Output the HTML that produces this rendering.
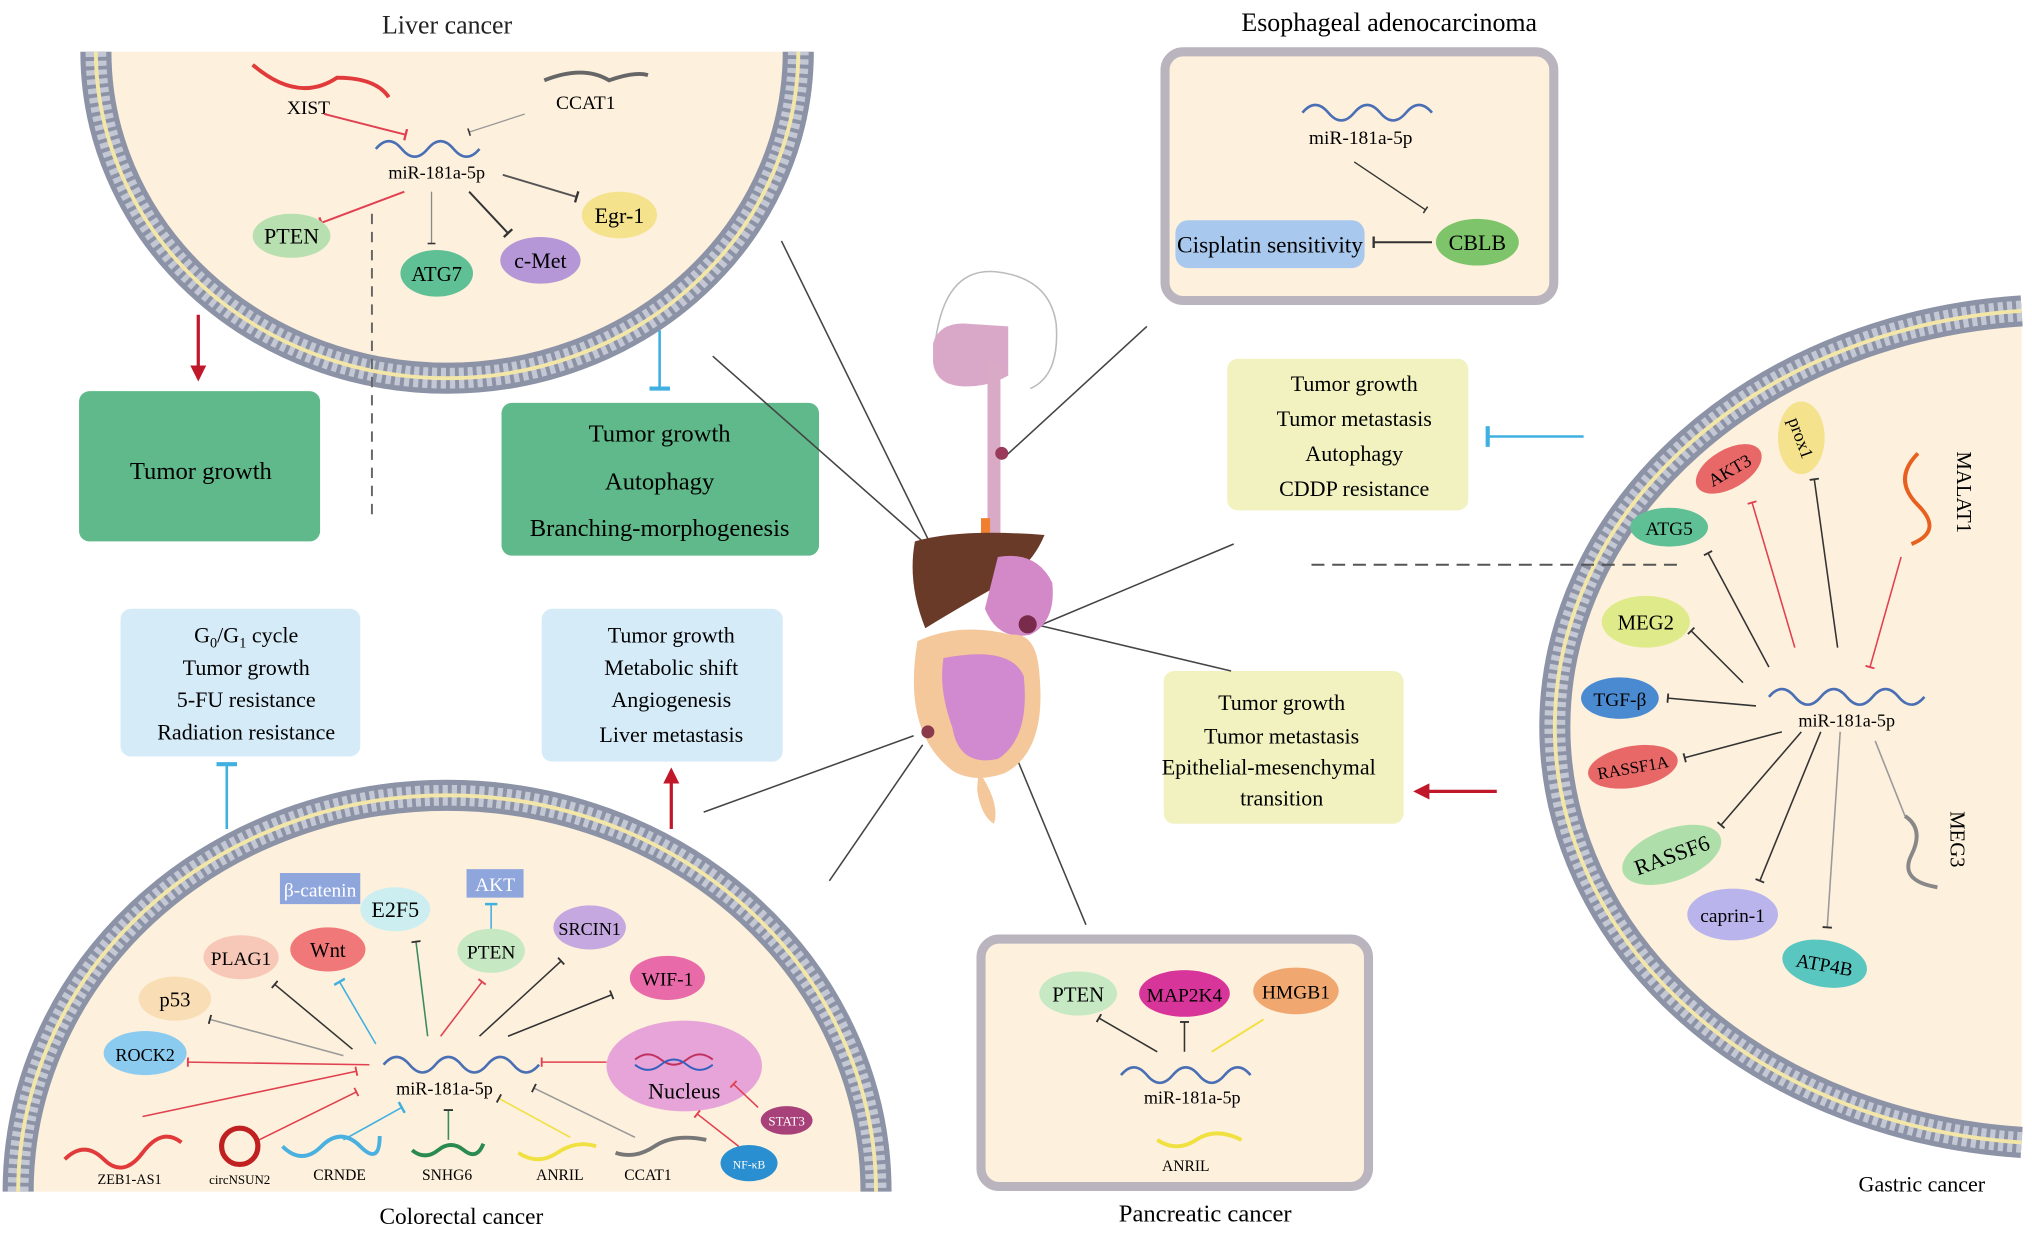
<!DOCTYPE html>
<html><head><meta charset="utf-8"><style>
html,body{margin:0;padding:0;background:#fff;}
svg{display:block;}
text{font-family:"Liberation Serif",serif;}
</style></head><body>
<svg width="2032" height="1237" viewBox="0 0 1568 955" preserveAspectRatio="none" xmlns="http://www.w3.org/2000/svg">
<defs>
<marker id="tb" viewBox="0 0 10 10" refX="5" refY="5" markerWidth="6" markerHeight="6" orient="auto"><path d="M5,0 L5,10" stroke="#333" stroke-width="2"/></marker>
<marker id="tr" viewBox="0 0 10 10" refX="5" refY="5" markerWidth="6" markerHeight="6" orient="auto"><path d="M5,0 L5,10" stroke="#e04050" stroke-width="2"/></marker>
<marker id="tc" viewBox="0 0 10 10" refX="5" refY="5" markerWidth="8" markerHeight="8" orient="auto"><path d="M5,0 L5,10" stroke="#40b0e0" stroke-width="2"/></marker>
<marker id="ar" viewBox="0 0 10 10" refX="8" refY="5" markerWidth="5" markerHeight="5" orient="auto"><path d="M0,0 L10,5 L0,10 z" fill="#c0182a"/></marker>
</defs>

<!-- Liver membrane -->
<path d="M74,40 A271,252 0 0 0 616,40 Z" fill="#fdf0dc"/>
<path d="M74,40 A271,252 0 0 0 616,40" fill="none" stroke="#8d93a6" stroke-width="24"/>
<path d="M74,40 A271,252 0 0 0 616,40" fill="none" stroke="#c4c8d4" stroke-width="16" stroke-dasharray="4 3"/>
<path d="M74,40 A271,252 0 0 0 616,40" fill="none" stroke="#f2e6a8" stroke-width="3"/>
<text x="345" y="26" font-size="20" text-anchor="middle" fill="#222">Liver cancer</text>

<path d="M195,50 Q230,80 260,60 Q290,60 300,75" fill="none" stroke="#e03a3a" stroke-width="3"/>
<text x="238" y="88" font-size="15" text-anchor="middle">XIST</text>
<path d="M420,62 Q450,50 470,62 Q490,55 500,58" fill="none" stroke="#666" stroke-width="3"/>
<text x="452" y="84" font-size="15" text-anchor="middle">CCAT1</text>
<path d="M290,115 q10,-12 20,0 t20,0 t20,0 t20,0" fill="none" stroke="#4a6fb5" stroke-width="2"/>
<text x="337" y="138" font-size="14" text-anchor="middle">miR-181a-5p</text>
<line x1="250" y1="88" x2="313" y2="104" stroke="#e04050" stroke-width="1.5" marker-end="url(#tr)"/>
<line x1="405" y1="88" x2="362" y2="102" stroke="#999" stroke-width="1" marker-end="url(#tb)"/>
<line x1="312" y1="148" x2="248" y2="172" stroke="#e04050" stroke-width="1.5" marker-end="url(#tr)"/>
<line x1="333" y1="148" x2="333" y2="188" stroke="#888" stroke-width="1" marker-end="url(#tb)"/>
<line x1="362" y1="148" x2="392" y2="180" stroke="#333" stroke-width="1.5" marker-end="url(#tb)"/>
<line x1="388" y1="135" x2="445" y2="152" stroke="#555" stroke-width="1.5" marker-end="url(#tb)"/>
<ellipse cx="225" cy="182" rx="30" ry="17" fill="#b8dfb0"/><text x="225" y="188" font-size="17" text-anchor="middle">PTEN</text>
<ellipse cx="337" cy="211" rx="28" ry="18" fill="#5fbf95"/><text x="337" y="217" font-size="16" text-anchor="middle">ATG7</text>
<ellipse cx="417" cy="201" rx="31" ry="18" fill="#b596d6"/><text x="417" y="207" font-size="17" text-anchor="middle">c-Met</text>
<ellipse cx="478" cy="166" rx="29" ry="18" fill="#f4e28c"/><text x="478" y="172" font-size="17" text-anchor="middle">Egr-1</text>
<line x1="287" y1="165" x2="287" y2="400" stroke="#666" stroke-width="1.5" stroke-dasharray="8 6"/>
<line x1="153" y1="243" x2="153" y2="292" stroke="#c0182a" stroke-width="2.5" marker-end="url(#ar)"/>
<line x1="509" y1="255" x2="509" y2="300" stroke="#40b0e0" stroke-width="2" marker-end="url(#tc)"/>
<rect x="61" y="302" width="186" height="116" rx="8" fill="#5fb98a"/>
<text x="155" y="370" font-size="19" text-anchor="middle">Tumor growth</text>
<rect x="387" y="311" width="245" height="118" rx="8" fill="#5fb98a"/>
<text x="509" y="341" font-size="19" text-anchor="middle">Tumor growth</text>
<text x="509" y="378" font-size="19" text-anchor="middle">Autophagy</text>
<text x="509" y="414" font-size="19" text-anchor="middle">Branching-morphogenesis</text>

<!-- Esophageal -->
<text x="1072" y="24" font-size="20" text-anchor="middle">Esophageal adenocarcinoma</text>
<rect x="899" y="40" width="300" height="192" rx="14" fill="#fdf0dc" stroke="#b9b4bd" stroke-width="7"/>
<path d="M1005,87 q10,-12 20,0 t20,0 t20,0 t20,0 t20,0" fill="none" stroke="#4a6fb5" stroke-width="2"/>
<text x="1050" y="111" font-size="15" text-anchor="middle">miR-181a-5p</text>
<line x1="1045" y1="125" x2="1100" y2="162" stroke="#333" stroke-width="1" marker-end="url(#tb)"/>
<rect x="907" y="170" width="146" height="37" rx="10" fill="#a9c8ee"/>
<text x="980" y="195" font-size="18" text-anchor="middle">Cisplatin sensitivity</text>
<line x1="1105" y1="187" x2="1060" y2="187" stroke="#333" stroke-width="1.5" marker-end="url(#tb)"/>
<ellipse cx="1140" cy="187" rx="32" ry="18" fill="#7ec46a"/><text x="1140" y="193" font-size="17" text-anchor="middle">CBLB</text>

<!-- Colorectal -->
<path d="M14,920 A331,306 0 0 1 676,920 Z" fill="#fdf0dc"/>
<path d="M14,920 A331,306 0 0 1 676,920" fill="none" stroke="#8d93a6" stroke-width="24"/>
<path d="M14,920 A331,306 0 0 1 676,920" fill="none" stroke="#c4c8d4" stroke-width="16" stroke-dasharray="4 3"/>
<path d="M14,920 A331,306 0 0 1 676,920" fill="none" stroke="#f2e6a8" stroke-width="3"/>
<text x="356" y="945" font-size="18" text-anchor="middle">Colorectal cancer</text>
<rect x="93" y="470" width="185" height="114" rx="8" fill="#d6ebf8"/>
<text x="190" y="496" font-size="17" text-anchor="middle">G<tspan font-size="11" dy="4">0</tspan><tspan dy="-4">/G</tspan><tspan font-size="11" dy="4">1</tspan><tspan dy="-4"> cycle</tspan></text>
<text x="190" y="521" font-size="17" text-anchor="middle">Tumor growth</text>
<text x="190" y="546" font-size="17" text-anchor="middle">5-FU resistance</text>
<text x="190" y="571" font-size="17" text-anchor="middle">Radiation resistance</text>
<rect x="418" y="470" width="186" height="118" rx="8" fill="#d6ebf8"/>
<text x="518" y="496" font-size="17" text-anchor="middle">Tumor growth</text>
<text x="518" y="521" font-size="17" text-anchor="middle">Metabolic shift</text>
<text x="518" y="546" font-size="17" text-anchor="middle">Angiogenesis</text>
<text x="518" y="573" font-size="17" text-anchor="middle">Liver metastasis</text>
<line x1="175" y1="640" x2="175" y2="590" stroke="#40b0e0" stroke-width="2" marker-end="url(#tc)"/>
<line x1="518" y1="640" x2="518" y2="595" stroke="#c0182a" stroke-width="2.5" marker-end="url(#ar)"/>
<path d="M296,822 q10,-12 20,0 t20,0 t20,0 t20,0 t20,0 t20,0" fill="none" stroke="#4a6fb5" stroke-width="2"/>
<text x="343" y="845" font-size="14" text-anchor="middle">miR-181a-5p</text>
<rect x="216" y="674" width="62" height="24" fill="#8fa6dc"/><text x="247" y="692" font-size="15" text-anchor="middle" fill="#fff">β-catenin</text>
<rect x="360" y="671" width="44" height="22" fill="#8fa6dc"/><text x="382" y="688" font-size="15" text-anchor="middle" fill="#fff">AKT</text>
<ellipse cx="305" cy="702" rx="27" ry="17" fill="#cdeef0"/><text x="305" y="708" font-size="17" text-anchor="middle">E2F5</text>
<ellipse cx="186" cy="739" rx="29" ry="17" fill="#f7c8b8"/><text x="186" y="745" font-size="15" text-anchor="middle">PLAG1</text>
<ellipse cx="253" cy="733" rx="29" ry="17" fill="#f07878"/><text x="253" y="739" font-size="16" text-anchor="middle">Wnt</text>
<ellipse cx="379" cy="734" rx="26" ry="17" fill="#c6e9c4"/><text x="379" y="740" font-size="15" text-anchor="middle">PTEN</text>
<ellipse cx="455" cy="716" rx="28" ry="17" fill="#c6a8e0"/><text x="455" y="722" font-size="14" text-anchor="middle">SRCIN1</text>
<ellipse cx="515" cy="755" rx="29" ry="17" fill="#e86aa8"/><text x="515" y="761" font-size="15" text-anchor="middle">WIF-1</text>
<ellipse cx="135" cy="771" rx="28" ry="17" fill="#f9ddb5"/><text x="135" y="777" font-size="16" text-anchor="middle">p53</text>
<ellipse cx="112" cy="813" rx="32" ry="17" fill="#8ccbf0"/><text x="112" y="819" font-size="14" text-anchor="middle">ROCK2</text>
<ellipse cx="528" cy="823" rx="60" ry="35" fill="#e7a4d8"/><text x="528" y="848" font-size="17" text-anchor="middle">Nucleus</text>
<path d="M490,818 q10,-8 20,0 t20,0 t20,0" fill="none" stroke="#c03060" stroke-width="1.5"/>
<path d="M490,822 q10,8 20,0 t20,0 t20,0" fill="none" stroke="#3060c0" stroke-width="1.5"/>
<ellipse cx="607" cy="865" rx="20" ry="11" fill="#a8417a"/><text x="607" y="869" font-size="10" text-anchor="middle" fill="#fff">STAT3</text>
<ellipse cx="578" cy="898" rx="22" ry="14" fill="#2a8fd0"/><text x="578" y="902" font-size="9" text-anchor="middle" fill="#fff">NF-κB</text>
<g stroke-width="1.2" fill="none">
<line x1="272" y1="810" x2="212" y2="760" stroke="#333" marker-end="url(#tb)"/>
<line x1="290" y1="806" x2="262" y2="758" stroke="#40b0e0" marker-end="url(#tc)"/>
<line x1="330" y1="800" x2="321" y2="727" stroke="#3a8a60" marker-end="url(#tb)"/>
<line x1="340" y1="800" x2="372" y2="758" stroke="#e04050" marker-end="url(#tr)"/>
<line x1="379" y1="717" x2="379" y2="698" stroke="#40b0e0" marker-end="url(#tc)"/>
<line x1="370" y1="800" x2="433" y2="742" stroke="#333" marker-end="url(#tb)"/>
<line x1="392" y1="800" x2="472" y2="768" stroke="#333" marker-end="url(#tb)"/>
<line x1="265" y1="815" x2="162" y2="787" stroke="#999" marker-end="url(#tb)"/>
<line x1="285" y1="822" x2="145" y2="820" stroke="#e04050" marker-end="url(#tr)"/>
<line x1="110" y1="862" x2="275" y2="827" stroke="#e04050" marker-end="url(#tr)"/>
<line x1="200" y1="880" x2="275" y2="843" stroke="#e04050" marker-end="url(#tr)"/>
<line x1="265" y1="880" x2="310" y2="855" stroke="#40b0e0" marker-end="url(#tc)"/>
<line x1="346" y1="880" x2="346" y2="857" stroke="#3a8a60" marker-end="url(#tb)"/>
<line x1="440" y1="878" x2="385" y2="848" stroke="#f0e040" marker-end="url(#tb)"/>
<line x1="490" y1="878" x2="412" y2="840" stroke="#999" marker-end="url(#tb)"/>
<line x1="468" y1="820" x2="418" y2="820" stroke="#e04050" marker-end="url(#tr)"/>
<line x1="585" y1="855" x2="566" y2="837" stroke="#e04050" marker-end="url(#tr)"/>
<line x1="570" y1="885" x2="538" y2="860" stroke="#e04050" marker-end="url(#tr)"/>
</g>
<path d="M50,895 q15,-15 30,0 t30,-5 t30,-8" fill="none" stroke="#e03a3a" stroke-width="3"/>
<text x="100" y="914" font-size="11" text-anchor="middle">ZEB1-AS1</text>
<circle cx="185" cy="885" r="14" fill="none" stroke="#c02020" stroke-width="4"/>
<text x="185" y="914" font-size="10" text-anchor="middle">circNSUN2</text>
<path d="M218,885 q15,15 30,0 t30,0 t15,-8" fill="none" stroke="#4ab0e0" stroke-width="3"/>
<text x="262" y="911" font-size="12" text-anchor="middle">CRNDE</text>
<path d="M318,888 q10,8 20,0 t20,0 t15,-5" fill="none" stroke="#2a8a50" stroke-width="3"/>
<text x="345" y="911" font-size="12" text-anchor="middle">SNHG6</text>
<path d="M400,890 q15,10 30,0 t30,-5" fill="none" stroke="#f0e040" stroke-width="3"/>
<text x="432" y="911" font-size="12" text-anchor="middle">ANRIL</text>
<path d="M475,890 q15,5 30,-5 t40,-5" fill="none" stroke="#777" stroke-width="3"/>
<text x="500" y="911" font-size="12" text-anchor="middle">CCAT1</text>

<!-- Pancreatic -->
<rect x="757" y="725" width="299" height="191" rx="14" fill="#fdf0dc" stroke="#b9b4bd" stroke-width="7"/>
<text x="930" y="943" font-size="19" text-anchor="middle">Pancreatic cancer</text>
<ellipse cx="832" cy="767" rx="30" ry="17" fill="#c6e9c4"/><text x="832" y="773" font-size="16" text-anchor="middle">PTEN</text>
<ellipse cx="914" cy="767" rx="35" ry="18" fill="#d8359a"/><text x="914" y="773" font-size="15" text-anchor="middle">MAP2K4</text>
<ellipse cx="1000" cy="765" rx="33" ry="18" fill="#f0a870"/><text x="1000" y="771" font-size="15" text-anchor="middle">HMGB1</text>
<path d="M865,830 q10,-12 20,0 t20,0 t20,0 t20,0 t20,0" fill="none" stroke="#4a6fb5" stroke-width="2"/>
<text x="920" y="852" font-size="14" text-anchor="middle">miR-181a-5p</text>
<line x1="893" y1="812" x2="848" y2="786" stroke="#333" stroke-width="1.2" marker-end="url(#tb)"/>
<line x1="914" y1="812" x2="914" y2="789" stroke="#333" stroke-width="1.2" marker-end="url(#tb)"/>
<line x1="935" y1="812" x2="975" y2="787" stroke="#f0e040" stroke-width="1.5"/>
<path d="M893,880 q15,10 30,0 t35,0" fill="none" stroke="#f0e040" stroke-width="3"/>
<text x="915" y="904" font-size="12" text-anchor="middle">ANRIL</text>

<!-- Gastric -->
<path d="M1560,240 A391,322 0 0 0 1560,882 Z" fill="#fdf0dc"/>
<path d="M1560,240 A391,322 0 0 0 1560,882" fill="none" stroke="#8d93a6" stroke-width="24"/>
<path d="M1560,240 A391,322 0 0 0 1560,882" fill="none" stroke="#c4c8d4" stroke-width="16" stroke-dasharray="4 3"/>
<path d="M1560,240 A391,322 0 0 0 1560,882" fill="none" stroke="#f2e6a8" stroke-width="3"/>
<text x="1483" y="920" font-size="17" text-anchor="middle">Gastric cancer</text>
<rect x="947" y="277" width="186" height="117" rx="8" fill="#f1f2c0"/>
<text x="1045" y="302" font-size="17" text-anchor="middle">Tumor growth</text>
<text x="1045" y="329" font-size="17" text-anchor="middle">Tumor metastasis</text>
<text x="1045" y="356" font-size="17" text-anchor="middle">Autophagy</text>
<text x="1045" y="383" font-size="17" text-anchor="middle">CDDP resistance</text>
<line x1="1222" y1="337" x2="1148" y2="337" stroke="#40b0e0" stroke-width="2" marker-end="url(#tc)"/>
<line x1="1012" y1="436" x2="1300" y2="436" stroke="#555" stroke-width="1.5" stroke-dasharray="10 6"/>
<rect x="898" y="518" width="185" height="118" rx="8" fill="#f1f2c0"/>
<text x="989" y="548" font-size="17" text-anchor="middle">Tumor growth</text>
<text x="989" y="574" font-size="17" text-anchor="middle">Tumor metastasis</text>
<text x="979" y="598" font-size="17" text-anchor="middle">Epithelial-mesenchymal</text>
<text x="989" y="622" font-size="17" text-anchor="middle">transition</text>
<line x1="1155" y1="611" x2="1093" y2="611" stroke="#c0182a" stroke-width="2.5" marker-end="url(#ar)"/>
<path d="M1365,538 q10,-12 20,0 t20,0 t20,0 t20,0 t20,0 t20,0" fill="none" stroke="#4a6fb5" stroke-width="2"/>
<text x="1425" y="561" font-size="14" text-anchor="middle">miR-181a-5p</text>
<ellipse cx="1334" cy="362" rx="28" ry="15" fill="#e86868" transform="rotate(-30 1334 362)"/><text x="1334" y="368" font-size="14" text-anchor="middle" transform="rotate(-30 1334 362)">AKT3</text>
<ellipse cx="1390" cy="338" rx="18" ry="28" fill="#f4e28c"/><text x="1390" y="343" font-size="14" text-anchor="middle" transform="rotate(70 1390 338)">prox1</text>
<ellipse cx="1288" cy="407" rx="30" ry="15" fill="#5fbf95"/><text x="1288" y="413" font-size="15" text-anchor="middle">ATG5</text>
<ellipse cx="1270" cy="480" rx="34" ry="20" fill="#dfeb8a"/><text x="1270" y="486" font-size="16" text-anchor="middle">MEG2</text>
<ellipse cx="1250" cy="539" rx="30" ry="16" fill="#4a8ad0"/><text x="1250" y="545" font-size="15" text-anchor="middle">TGF-β</text>
<ellipse cx="1260" cy="592" rx="35" ry="16" fill="#e86868" transform="rotate(-10 1260 592)"/><text x="1260" y="597" font-size="13" text-anchor="middle" transform="rotate(-10 1260 592)">RASSF1A</text>
<ellipse cx="1290" cy="660" rx="40" ry="20" fill="#aedfaa" transform="rotate(-20 1290 660)"/><text x="1290" y="666" font-size="17" text-anchor="middle" transform="rotate(-20 1290 660)">RASSF6</text>
<ellipse cx="1337" cy="706" rx="35" ry="20" fill="#b9b4ec"/><text x="1337" y="712" font-size="15" text-anchor="middle">caprin-1</text>
<ellipse cx="1408" cy="744" rx="33" ry="18" fill="#5ac6c0" transform="rotate(10 1408 744)"/><text x="1408" y="750" font-size="15" text-anchor="middle" transform="rotate(10 1408 744)">ATP4B</text>
<g stroke-width="1.2">
<line x1="1385" y1="500" x2="1352" y2="388" stroke="#e04050" marker-end="url(#tr)"/>
<line x1="1418" y1="500" x2="1400" y2="370" stroke="#333" marker-end="url(#tb)"/>
<line x1="1365" y1="515" x2="1318" y2="427" stroke="#333" marker-end="url(#tb)"/>
<line x1="1345" y1="527" x2="1305" y2="487" stroke="#333" marker-end="url(#tb)"/>
<line x1="1355" y1="545" x2="1287" y2="539" stroke="#333" marker-end="url(#tb)"/>
<line x1="1375" y1="565" x2="1300" y2="585" stroke="#333" marker-end="url(#tb)"/>
<line x1="1390" y1="565" x2="1328" y2="637" stroke="#333" marker-end="url(#tb)"/>
<line x1="1405" y1="565" x2="1358" y2="680" stroke="#333" marker-end="url(#tb)"/>
<line x1="1420" y1="565" x2="1410" y2="716" stroke="#999" marker-end="url(#tb)"/>
<line x1="1467" y1="430" x2="1443" y2="515" stroke="#e04050" marker-end="url(#tr)"/>
<line x1="1470" y1="630" x2="1447" y2="572" stroke="#999"/>
</g>
<path d="M1480,350 q-20,20 0,40 t-5,30" fill="none" stroke="#e8601e" stroke-width="3"/>
<text x="1510" y="380" font-size="16" text-anchor="middle" transform="rotate(90 1510 380)">MALAT1</text>
<path d="M1470,630 q15,10 5,30 t20,25" fill="none" stroke="#888" stroke-width="3"/>
<text x="1505" y="648" font-size="16" text-anchor="middle" transform="rotate(90 1505 648)">MEG3</text>

<!-- connector lines to center -->
<g stroke="#444" stroke-width="1.2">
<line x1="603" y1="186" x2="717" y2="418"/>
<line x1="550" y1="275" x2="712" y2="418"/>
<line x1="885" y1="252" x2="775" y2="353"/>
<line x1="952" y1="420" x2="790" y2="488"/>
<line x1="950" y1="518" x2="790" y2="480"/>
<line x1="838" y1="714" x2="745" y2="490"/>
<line x1="543" y1="627" x2="705" y2="568"/>
<line x1="640" y1="680" x2="712" y2="575"/>
</g>

<!-- body illustration -->
<path d="M722,262 Q730,205 770,210 Q810,215 815,250 Q818,290 795,300" fill="none" stroke="#bbb" stroke-width="1.2"/>
<path d="M720,265 Q725,248 748,250 L778,252 L778,290 Q760,300 740,298 Q722,296 720,280 Z" fill="#d9a8c8"/>
<rect x="762" y="280" width="10" height="150" fill="#d9aac6"/>
<circle cx="773" cy="350" r="5" fill="#9a3a5a"/>
<rect x="757" y="400" width="7" height="15" fill="#f08030"/>
<path d="M706,418 Q740,408 806,413 Q795,440 765,455 Q735,472 714,485 Q700,450 706,418 Z" fill="#6a3a28"/>
<path d="M770,430 Q800,425 812,450 Q815,480 795,490 Q770,495 760,470 Z" fill="#d389c8"/>
<circle cx="793" cy="482" r="7" fill="#7a2a4a"/>
<path d="M708,495 Q696,565 735,595 Q752,605 775,597 Q808,580 802,520 Q800,488 780,490 Q740,480 708,495 Z" fill="#f4c89a"/>
<path d="M728,508 Q780,498 790,522 Q795,570 770,586 Q740,592 735,562 Q724,532 728,508 Z" fill="#d18ad0"/>
<path d="M755,595 Q772,620 767,636 Q757,630 754,610 Z" fill="#f4c89a"/>
<circle cx="716" cy="565" r="5" fill="#8a3a4a"/>
</svg>
</body></html>
